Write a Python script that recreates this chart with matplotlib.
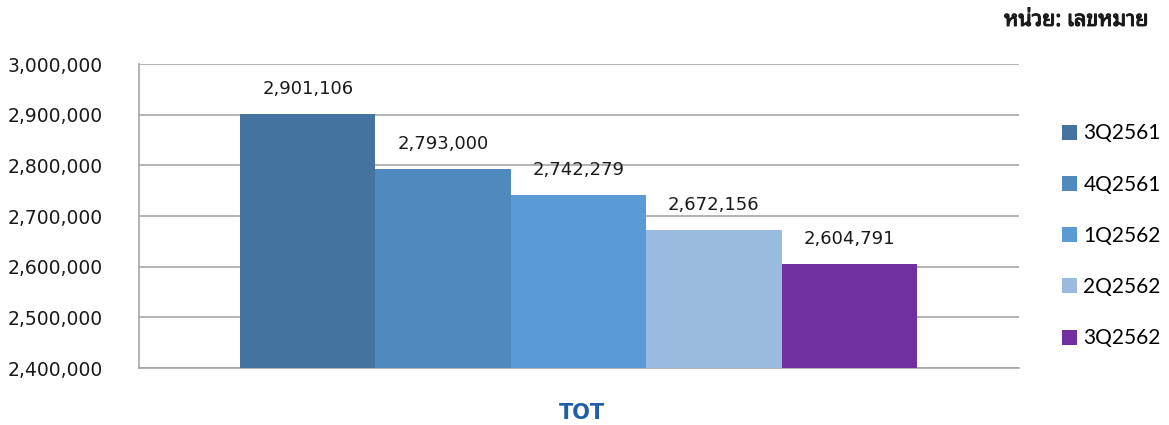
import matplotlib
matplotlib.use("Agg")
import matplotlib.pyplot as plt
import matplotlib.patheffects as pe
from matplotlib import font_manager
from matplotlib.ft2font import FT2Font
from matplotlib.ticker import FuncFormatter

quarters = ["3Q2561", "4Q2561", "1Q2562", "2Q2562", "3Q2562"]
values = [2901106, 2793000, 2742279, 2672156, 2604791]
colors = ["#44739f", "#4f89bd", "#5b9bd5", "#9bbadf", "#7030a0"]
yticks = [2400000, 2500000, 2600000, 2700000, 2800000, 2900000, 3000000]
unit_text = "หน่วย: เลขหมาย"


# find an installed font that has Thai glyphs, sans ones first
def thai_font():
    found = []
    for f in font_manager.fontManager.ttflist:
        try:
            cmap = FT2Font(f.fname).get_charmap()
        except Exception:
            continue
        if 0x0E2B in cmap and 0x0E40 in cmap:
            found.append(f.name)
    if not found:
        return "DejaVu Sans"
    for key in ["Noto Sans Thai", "Loma", "Garuda", "Sans"]:
        for n in found:
            if key in n and "Serif" not in n:
                return n
    return found[0]

thai = thai_font()

fig = plt.figure(figsize=(11.69, 4.25), dpi=100)
ax = fig.add_axes([0.1189, 0.1341, 0.7528, 0.7153])

bars = []
for i in range(len(values)):
    b = ax.bar(i, values[i] - yticks[0], bottom=yticks[0], width=1.0,
               color=colors[i], label=quarters[i], zorder=3)
    bars.append(b)
    ax.annotate(format(values[i], ","), (i, values[i]), xytext=(0, 18),
                textcoords="offset points", ha="center", va="center",
                fontsize=13, color="#1a1a1a")

ax.set_xlim(-1.246, 5.254)
ax.set_ylim(yticks[0], yticks[-1])
ax.set_yticks(yticks)
ax.yaxis.set_major_formatter(FuncFormatter(lambda v, p: format(int(v), ",")))
ax.tick_params(axis="y", length=0, labelsize=13.5, pad=26, colors="#1a1a1a")
ax.set_xticks([])
ax.grid(axis="y", color="#a6a6a6", linewidth=1.2, zorder=0)
for s in ["top", "right"]:
    ax.spines[s].set_visible(False)
for s in ["left", "bottom"]:
    ax.spines[s].set_color("#a6a6a6")
    ax.spines[s].set_linewidth(1.2)

leg = fig.legend(handles=[b[0] for b in bars], labels=quarters,
                 loc="center left", bbox_to_anchor=(0.8925, 0.445),
                 frameon=False, handlelength=0.72, handleheight=0.72,
                 handletextpad=0.3, labelspacing=1.5,
                 prop={"family": "Lato", "size": 15})

# font has no bold face, so thicken it with a stroke
fig.text(0.982, 0.952, unit_text, ha="right", va="center", fontsize=15.5,
         fontweight="bold", family=[thai, "DejaVu Sans"], color="#1a1a1a",
         path_effects=[pe.withStroke(linewidth=0.8, foreground="#1a1a1a")])

# TOT logo as text
fig.text(0.498, 0.028, "TOT", ha="center", va="center", fontsize=15,
         fontweight="bold", color="#1f5fa8", family="DejaVu Sans")

fig.savefig("out.png", dpi=100)
